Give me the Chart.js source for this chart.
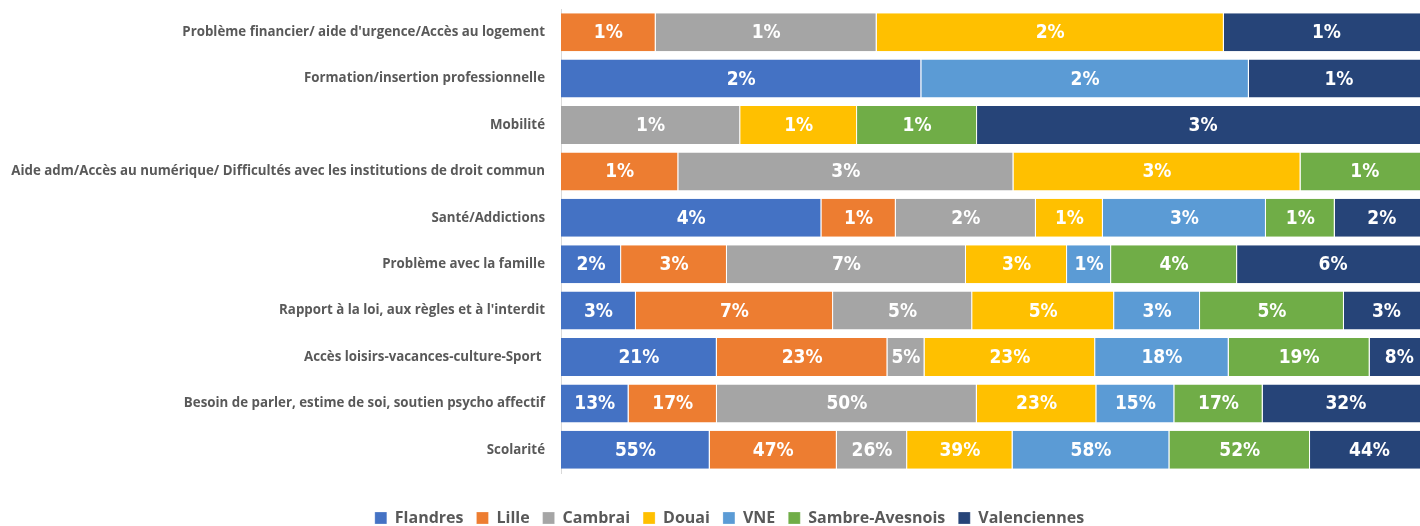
<!DOCTYPE html>
<html>
<head>
<meta charset="utf-8">
<script src="https://cdn.jsdelivr.net/npm/chart.js@4.4.1/dist/chart.umd.min.js"></script>
<style>
  html, body { margin: 0; padding: 0; background: #fff; overflow: hidden; }
  #wrap { position: relative; width: 1458px; height: 536px; }
</style>
</head>
<body>
<div id="wrap"><canvas id="chart"></canvas></div>
<script>
const categories = [
  "Problème financier/ aide d'urgence/Accès au logement",
  "Formation/insertion professionnelle",
  "Mobilité",
  "Aide adm/Accès au numérique/ Difficultés avec les institutions de droit commun",
  "Santé/Addictions",
  "Problème avec la famille",
  "Rapport à la loi, aux règles et à l'interdit",
  "Accès loisirs-vacances-culture-Sport ",
  "Besoin de parler, estime de soi, soutien psycho affectif",
  "Scolarité"
];

// percentages per territory, one value per category (0 = absent)
const flandres     = [0,   2.2, 0,    0,    4.2,  1.76, 2.66, 21, 13, 55];
const lille        = [0.6, 0,   0,    1.05, 1.2,  3.1,  7,    23, 17, 47];
const cambrai      = [1.4, 0,   1.15, 3.0,  2.26, 7,    4.94, 5,  50, 26];
const douai        = [2.2, 0,   0.75, 2.57, 1.08, 2.96, 5.04, 23, 23, 39];
const vne          = [0,   2.0, 0,    0,    2.63, 1.29, 3.05, 18, 15, 58];
const sambre       = [0,   0,   0.77, 1.15, 1.11, 3.69, 5.11, 19, 17, 52];
const valenciennes = [1.3, 1.1, 2.9,  0,    1.52, 5.62, 3.02, 8,  32, 44];

const seriesNames = ["Flandres", "Lille", "Cambrai", "Douai", "VNE", "Sambre-Avesnois", "Valenciennes"];
const seriesValues = [flandres, lille, cambrai, douai, vne, sambre, valenciennes];
const colors = ["#4472C4", "#ED7D31", "#A5A5A5", "#FFC000", "#5B9BD5", "#70AD47", "#264478"];

// 100% stacked: share of each row
const rowTotals = categories.map((c, i) =>
  seriesValues.reduce((sum, s) => sum + s[i], 0)
);

const datasets = seriesNames.map((name, k) => ({
  label: name,
  data: seriesValues[k].map((v, i) => (v ? (v / rowTotals[i]) * 100 : null)),
  raw: seriesValues[k],
  backgroundColor: colors[k],
  borderColor: "#ffffff",
  borderWidth: { right: 1, left: 0, top: 0, bottom: 0 },
  borderSkipped: false,
  barPercentage: 0.82,
  categoryPercentage: 1.0
}));

// draw the percent labels inside each segment
const segmentLabels = {
  id: "segmentLabels",
  afterDatasetsDraw(chart) {
    const ctx = chart.ctx;
    ctx.save();
    ctx.fillStyle = "#ffffff";
    ctx.font = "bold 19px 'Liberation Sans Narrow', 'DejaVu Sans Condensed', sans-serif";
    ctx.textAlign = "center";
    ctx.textBaseline = "middle";
    chart.data.datasets.forEach((ds, k) => {
      chart.getDatasetMeta(k).data.forEach((bar, i) => {
        const v = ds.raw[i];
        if (!v) return;
        const cx = (bar.x + bar.base) / 2;
        ctx.fillText(Math.round(v) + "%", cx, bar.y + 1);
      });
    });
    ctx.restore();
  }
};

// legend sits a little right of the canvas centre in the original
const legendShift = {
  id: "legendShift",
  afterLayout(chart) {
    chart.legend.left += 15;
    chart.legend.right += 15;
  }
};

new Chart(document.getElementById("chart"), {
  type: "bar",
  data: { labels: categories, datasets: datasets },
  plugins: [segmentLabels, legendShift],
  options: {
    indexAxis: "y",
    responsive: true,
    maintainAspectRatio: false,
    animation: false,
    layout: { padding: { top: 9, right: 29, left: 0, bottom: 0 } },
    scales: {
      x: {
        stacked: true,
        min: 0,
        max: 100,
        grid: { display: false },
        border: { display: false },
        ticks: { display: false },
        afterFit: (s) => { s.height = 24; }
      },
      y: {
        stacked: true,
        grid: { display: false, drawTicks: false },
        border: { display: true, color: "#D9D9D9", width: 1 },
        ticks: {
          color: "#595959",
          padding: 16,
          autoSkip: false,
          font: { family: "'Open Sans', sans-serif", size: 13.3, weight: "bold" }
        },
        afterFit: (s) => {
          s.width = 561;
          s.paddingTop = 0;
          s.paddingBottom = 0;
        }
      }
    },
    plugins: {
      legend: {
        position: "bottom",
        labels: {
          color: "#595959",
          boxWidth: 12,
          boxHeight: 12,
          padding: 13,
          font: { family: "'Open Sans', sans-serif", size: 16, weight: "bold" }
        }
      },
      tooltip: { enabled: false }
    }
  }
});
</script>
</body>
</html>
